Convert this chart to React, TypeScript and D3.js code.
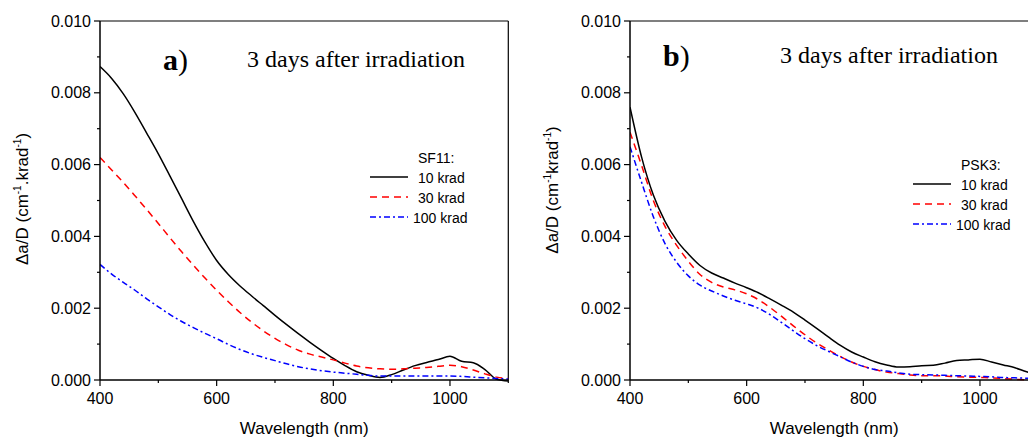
import React from 'react'
import * as d3 from 'd3'

// wavelength grid (nm)
const wavelengths = [400, 420, 440, 460, 480, 500, 520, 540, 560, 580, 600, 620, 640, 660, 680, 700, 720, 740, 760, 780, 800,
  820, 840, 860, 880, 900, 920, 940, 960, 980, 1000, 1020, 1040, 1060, 1080, 1100]

// SF11 (panel a)
const sf11_10 = [0.00873, 0.0084, 0.00797, 0.00745, 0.00688, 0.0063, 0.00568, 0.00505, 0.00442, 0.00384, 0.00333, 0.00294,
  0.00262, 0.00234, 0.00207, 0.0018, 0.00154, 0.00129, 0.00105, 0.00082, 0.0006, 0.0004, 0.00023, 0.00013, 0.00007,
  0.00015, 0.00028, 0.0004, 0.00049, 0.00057, 0.00066, 0.00052, 0.00048, 0.00029, 0.00002, -0.00003]
const sf11_30 = [0.0062, 0.00585, 0.0055, 0.00513, 0.00475, 0.00436, 0.00396, 0.00357, 0.0032, 0.00284, 0.0025, 0.00218,
  0.00188, 0.00161, 0.00137, 0.00116, 0.00098, 0.00083, 0.00072, 0.00064, 0.00056, 0.00047, 0.00039, 0.00034, 0.00031,
  0.0003, 0.00031, 0.00033, 0.00035, 0.00038, 0.00041, 0.00037, 0.00028, 0.00017, 0.00008, 0.00004]
const sf11_100 = [0.00322, 0.00295, 0.00272, 0.0025, 0.00226, 0.00204, 0.00182, 0.00163, 0.00146, 0.0013, 0.00115, 0.00099,
  0.00085, 0.00073, 0.00063, 0.00054, 0.00045, 0.00037, 0.00031, 0.00026, 0.00022, 0.00019, 0.00016, 0.00013, 0.00011,
  0.00011, 0.00011, 0.00011, 0.00011, 0.00011, 0.00011, 0.0001, 0.00008, 0.00006, 0.00004, 0.00003]

// PSK3 (panel b)
const psk3_10 = [0.0076, 0.0062, 0.00515, 0.00442, 0.00389, 0.00351, 0.00319, 0.00298, 0.00284, 0.0027, 0.00257, 0.00243,
  0.00226, 0.00208, 0.00189, 0.00167, 0.00144, 0.0012, 0.00097, 0.00078, 0.00064, 0.00051, 0.00042, 0.00036, 0.00037,
  0.0004, 0.00041, 0.00047, 0.00054, 0.00056, 0.00058, 0.0005, 0.00042, 0.00034, 0.00023, 0.00015]
const psk3_30 = [0.0069, 0.00597, 0.005, 0.00428, 0.00375, 0.00331, 0.00294, 0.00272, 0.00259, 0.00251, 0.0024, 0.00224,
  0.00202, 0.00177, 0.00151, 0.00126, 0.00103, 0.00084, 0.00066, 0.0005, 0.00038, 0.00029, 0.00022, 0.00018, 0.00014,
  0.00012, 0.00012, 0.00011, 0.00009, 0.00008, 0.00007, 0.00006, 0.00004, 0.00002, 0.0, -0.00001]
const psk3_100 = [0.0065, 0.0055, 0.00455, 0.0038, 0.00328, 0.0029, 0.00264, 0.00248, 0.00234, 0.00222, 0.00212, 0.002,
  0.00182, 0.0016, 0.00137, 0.00115, 0.00096, 0.0008, 0.00065, 0.0005, 0.00038, 0.00029, 0.00025, 0.0002, 0.00016,
  0.00015, 0.00014, 0.00013, 0.00012, 0.00011, 0.0001, 0.00009, 0.00007, 0.00006, 0.00005, 0.00005]

const doseLabels = ['10 krad', '30 krad', '100 krad']
const xMajor = [400, 600, 800, 1000]
const xMinor = [500, 700, 900, 1100]
const yMajor = [0, 0.002, 0.004, 0.006, 0.008, 0.01]
const yMinor = [0.001, 0.003, 0.005, 0.007, 0.009]

const SANS = '"Liberation Sans", Arial, sans-serif'
const SERIF = '"Liberation Serif", "Times New Roman", serif'
const styles = [
  { stroke: 'black', dash: undefined },
  { stroke: 'red', dash: '7,5' },
  { stroke: 'blue', dash: '6,3,2,3' },
]

const Panel = (props: any) => {
  const { left, series, letter, material, yLabelDot, legendX, legendY, titleY, titleX, letterX, yLabelCenter } = props
  const top = 21, bottom = 380
  const x = d3.scaleLinear().domain([400, 1100]).range([left, left + 408.3])
  const y = d3.scaleLinear().domain([0, 0.01]).range([bottom, top])
  const line = d3.line<number>()
    .x((d, i) => x(wavelengths[i]))
    .y(d => y(d))
    .curve(d3.curveMonotoneX)
  const fmt = d3.format('.3f')
  const xr = x.range()[1]
  const clipId = 'clip-' + letter

  return (
    <g>
      <defs>
        <clipPath id={clipId}><rect x={left} y={top - 2} width={xr - left} height={bottom - top + 4} /></clipPath>
      </defs>
      {/* frame */}
      <line x1={left} x2={xr} y1={top} y2={top} stroke="black" strokeWidth={1.2} />
      <line x1={xr} x2={xr} y1={top} y2={bottom} stroke="black" strokeWidth={1.2} />
      <g clipPath={`url(#${clipId})`}>
        {series.map((s: number[], i: number) => (
          <path key={i} d={line(s) || ''} fill="none" stroke={styles[i].stroke}
            strokeDasharray={styles[i].dash} strokeWidth={1.5} />
        ))}
      </g>
      <line x1={left} x2={left} y1={top} y2={bottom} stroke="black" strokeWidth={1.5} />
      <line x1={left} x2={xr} y1={bottom} y2={bottom} stroke="black" strokeWidth={1.5} />
      {yMajor.map(v => (
        <g key={'ym' + v}>
          <line x1={left - 6} x2={left} y1={y(v)} y2={y(v)} stroke="black" strokeWidth={1.2} />
          <text x={left - 9} y={y(v)} dy="0.35em" textAnchor="end" fontFamily={SANS} fontSize={16}>{fmt(v)}</text>
        </g>
      ))}
      {yMinor.map(v => (
        <line key={'yn' + v} x1={left - 3} x2={left} y1={y(v)} y2={y(v)} stroke="black" strokeWidth={1.2} />
      ))}
      {xMajor.map(v => (
        <g key={'xm' + v}>
          <line x1={x(v)} x2={x(v)} y1={bottom} y2={bottom + 6} stroke="black" strokeWidth={1.2} />
          <text x={x(v)} y={404} textAnchor="middle" fontFamily={SANS} fontSize={16}>{v}</text>
        </g>
      ))}
      {xMinor.map(v => (
        <line key={'xn' + v} x1={x(v)} x2={x(v)} y1={bottom} y2={bottom + 3} stroke="black" strokeWidth={1.2} />
      ))}
      <text x={(left + xr) / 2} y={434} textAnchor="middle" fontFamily={SANS} fontSize={17}>Wavelength (nm)</text>
      <text transform={`translate(${left - 72},${yLabelCenter}) rotate(-90)`} textAnchor="middle" fontFamily={SANS} fontSize={17}>
        Δa/D (cm<tspan fontSize={10} dy={-7}>-1</tspan><tspan dy={7}>{yLabelDot ? '.krad' : 'krad'}</tspan>
        <tspan fontSize={10} dy={-7}>-1</tspan><tspan dy={7}>)</tspan>
      </text>
      <text x={letterX} y={titleY + 3} fontFamily={SERIF} fontSize={30}>
        <tspan fontWeight="bold">{letter}</tspan>)
      </text>
      <text x={titleX} y={titleY} fontFamily={SERIF} fontSize={24}>3 days after irradiation</text>
      {/* legend */}
      <text x={legendX + 48} y={legendY} fontFamily={SANS} fontSize={14}>{material}:</text>
      {doseLabels.map((lab, i) => (
        <g key={lab}>
          <line x1={legendX} x2={legendX + 38} y1={legendY + 14 + i * 20} y2={legendY + 14 + i * 20}
            stroke={styles[i].stroke} strokeDasharray={styles[i].dash} strokeWidth={1.5} />
          <text x={legendX + (i === 2 ? 43 : 48)} y={legendY + 20 + i * 20} fontFamily={SANS} fontSize={14}>{lab}</text>
        </g>
      ))}
    </g>
  )
}

const App = () => {
  return (
    <svg width={1028} height={439} style={{ position: 'absolute', left: 0, top: 0, display: 'block', background: 'white' }}>
      <Panel left={100} series={[sf11_10, sf11_30, sf11_100]} letter="a" material="SF11" yLabelDot={true}
        legendX={370} legendY={163} titleX={247} titleY={67} letterX={163} yLabelCenter={199} />
      <Panel left={630} series={[psk3_10, psk3_30, psk3_100]} letter="b" material="PSK3" yLabelDot={false}
        legendX={913} legendY={170} titleX={780} titleY={63} letterX={663} yLabelCenter={190} />
    </svg>
  )
}

export default App
